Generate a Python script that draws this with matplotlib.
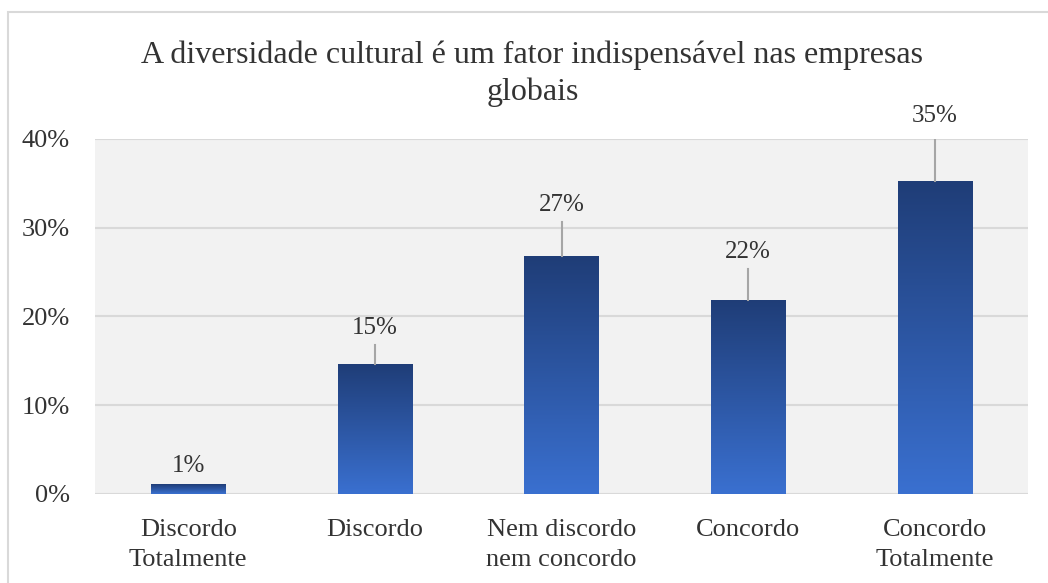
import numpy as np
import matplotlib.pyplot as plt
from matplotlib.colors import LinearSegmentedColormap
from matplotlib.patches import Rectangle

categories = ['Discordo\nTotalmente', 'Discordo', 'Nem discordo\nnem concordo',
              'Concordo', 'Concordo\nTotalmente']
values = [1.1, 14.7, 26.8, 21.9, 35.3]          # percent
label_lift = [2.1, 4.0, 5.8, 5.4, 7.3]           # label offset above bar, in points of %
yticks = [0, 10, 20, 30, 40]
title = 'A diversidade cultural é um fator indispensável nas empresas\nglobais'

plt.rcParams['font.family'] = ['Liberation Serif', 'DejaVu Serif']
text_color = '#333333'

fig = plt.figure(figsize=(10.48, 5.83), dpi=100)
ax = fig.add_axes([0.0906, 0.1527, 0.8906, 0.6089])
ax.set_facecolor('#f2f2f2')

x = np.arange(len(categories))
bars = ax.bar(x, values, width=0.4, color='none', zorder=2)

# vertical gradient fill, dark at top, lighter at bottom
grad = LinearSegmentedColormap.from_list('blues', ['#3a70d0', '#1f3d77'])
ramp = np.linspace(0, 1, 256).reshape(-1, 1)
for b in bars:
    x0, y0 = b.get_x(), b.get_y()
    w, h = b.get_width(), b.get_height()
    im = ax.imshow(ramp, cmap=grad, origin='lower', aspect='auto',
                   extent=[x0, x0 + w, y0, y0 + h], zorder=2)
    im.set_clip_path(b)

# data labels with leader lines
for i, (v, lift) in enumerate(zip(values, label_lift)):
    ax.text(i, v + lift, f'{v:.0f}%', ha='center', va='center',
            fontsize=18, color=text_color, zorder=4)
    if lift > 3:
        ax.plot([i, i], [v, v + lift - 1.9], color='#a6a6a6', lw=1.5, zorder=3)

ax.set_xlim(-0.5, len(categories) - 0.5)
ax.set_ylim(0, 40)
ax.set_yticks(yticks)
ax.set_yticklabels([f'{t}%' for t in yticks])
ax.set_xticks(x)
ax.set_xticklabels(categories, linespacing=1.45)
ax.tick_params(axis='y', length=0, pad=18, labelsize=19, labelcolor=text_color)
ax.tick_params(axis='x', length=0, pad=18, labelsize=19, labelcolor=text_color)
ax.yaxis.grid(True, color='#d9d9d9', lw=1.5)
ax.set_axisbelow(True)
for s in ax.spines.values():
    s.set_visible(False)

fig.text(0.508, 1 - 74 / 583, title, ha='center', va='center',
         fontsize=23, color=text_color, linespacing=1.35)

# chart area border
fig.patches.append(Rectangle((8 / 1048, -0.1), 1.2, (583 - 12) / 583 + 0.1,
                             transform=fig.transFigure, fill=False,
                             ec='#d9d9d9', lw=1.5))

fig.savefig('out.png', dpi=100)
